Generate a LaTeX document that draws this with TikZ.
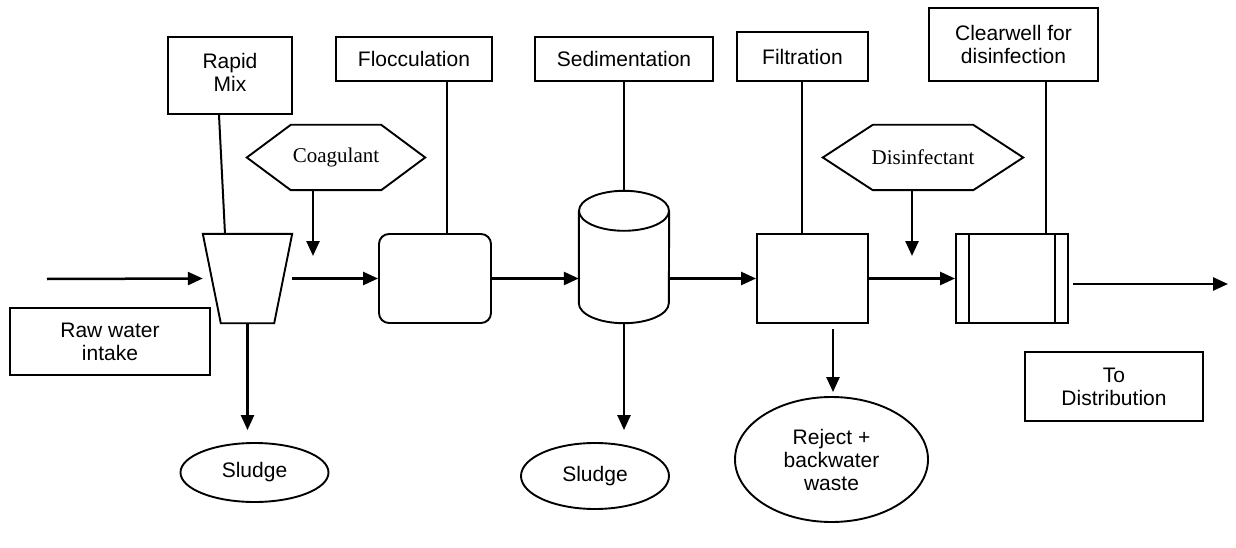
\documentclass[tikz,border=0pt]{standalone}
\usepackage{fontspec}
\setmainfont{Liberation Sans}
\newfontfamily\timesfont{Liberation Serif}
\usetikzlibrary{arrows.meta,shapes.geometric}
\begin{document}
\begin{tikzpicture}[x=1pt,y=-1pt,
  every node/.style={font=\fontsize{21}{23}\selectfont, align=center, inner sep=0pt},
  lbl/.style={draw, line width=1.9pt},
  ghost/.style={draw=none},
  shp/.style={line width=1.9pt},
  conn/.style={line width=2pt},
  arr/.style={line width=2.5pt, -{Triangle[length=15pt,width=13pt]}},
  hexfont/.style={font=\timesfont\fontsize{21}{23}\selectfont}]
\useasboundingbox (0,0) rectangle (1236,548);

% label boxes
\node[lbl, minimum width=124pt, minimum height=77pt] (rapid) at (230,75.5) {\raisebox{4pt}{\begin{tabular}{@{}c@{}}Rapid\\Mix\end{tabular}}};
\node[lbl, minimum width=156pt, minimum height=44pt] (floc) at (414,59) {Flocculation};
\node[lbl, minimum width=178pt, minimum height=44pt] (sedl) at (624,59) {Sedimentation};
\node[lbl, minimum width=131pt, minimum height=49pt] (filtl) at (802.5,56.5) {Filtration};
\node[lbl, minimum width=169pt, minimum height=73pt] (clear) at (1013.5,44.5) {Clearwell for\\disinfection};
\node[lbl, minimum width=200pt, minimum height=67pt] (raw) at (110,341.5) {Raw water\\intake};
\node[lbl, minimum width=178pt, minimum height=69pt] (dist) at (1114,386.5) {To\\Distribution};

% hexagons
\node[ghost, hexfont, minimum width=178pt, minimum height=65pt] (coag) at (336,157.5) {Coagulant};
\draw[shp] (coag.west) -- ([xshift=44pt]coag.north west) -- ([xshift=-44pt]coag.north east)
  -- (coag.east) -- ([xshift=-44pt]coag.south east) -- ([xshift=44pt]coag.south west) -- cycle;
\node[ghost, hexfont, minimum width=200pt, minimum height=65pt] (dis) at (923,157.5) {Disinfectant};
\draw[shp] (dis.west) -- ([xshift=50pt]dis.north west) -- ([xshift=-50pt]dis.north east)
  -- (dis.east) -- ([xshift=-50pt]dis.south east) -- ([xshift=50pt]dis.south west) -- cycle;

% process units
\node[ghost, minimum width=89pt, minimum height=89pt] (rm) at (247.5,278.5) {};
\draw[shp] (rm.north west) -- (rm.north east) -- ([xshift=-18pt]rm.south east)
  -- ([xshift=18pt]rm.south west) -- cycle;
\node[lbl, rounded corners=10pt, minimum width=112pt, minimum height=89pt] (fb) at (435,278.5) {};
\node[ghost, minimum width=90pt, minimum height=132pt] (sed) at (624,257) {};
\draw[shp] ([yshift=-20pt]sed.north west) -- ([yshift=20pt]sed.south west)
  arc[start angle=180, end angle=360, x radius=45pt, y radius=20pt]
  -- ([yshift=-20pt]sed.north east);
\draw[shp] ([yshift=-20pt]sed.north) ellipse [x radius=45pt, y radius=20pt];
\node[lbl, minimum width=111pt, minimum height=89pt] (fblk) at (812.5,278.5) {};
\node[lbl, minimum width=112pt, minimum height=89pt] (cw) at (1012,278.5) {};
\draw[shp] ([xshift=14pt]cw.north west) -- ([xshift=14pt]cw.south west);
\draw[shp] ([xshift=-14pt]cw.north east) -- ([xshift=-14pt]cw.south east);

% outputs
\node[draw, ellipse, shp, minimum width=148pt, minimum height=59pt] (sl1) at (254.5,472.5) {Sludge};
\node[draw, ellipse, shp, minimum width=148pt, minimum height=66pt] (sl2) at (595,476) {Sludge};
\node[draw, ellipse, shp, minimum width=193pt, minimum height=125pt] (rej) at (831.5,459.5) {Reject +\\backwater\\waste};

% label connectors
\draw[conn] ([xshift=-11pt]rapid.south) -- ([xshift=-22.5pt]rm.north);
\draw[conn] ([xshift=33pt]floc.south) -- ([xshift=33pt]floc.south |- fb.north);
\draw[conn] (sedl.south) -- (sedl.south |- sed.north);
\draw[conn] ([xshift=-0.5pt]filtl.south) -- ([xshift=-0.5pt]filtl.south |- fblk.north);
\draw[conn] ([xshift=32.5pt]clear.south) -- ([xshift=32.5pt]clear.south |- cw.north);

% flow arrows
\coordinate (in) at (47,279);
\coordinate (o1) at (1073,284);
\coordinate (o2) at (1228,284);
\coordinate (cga) at (313,256);
\coordinate (dsa) at (912,256);
\draw[arr] (in) -- (rm.west);
\draw[arr] (rm.east) -- (fb.west);
\draw[arr] (fb.east) -- (fb.east -| sed.west);
\draw[arr] (sed.east |- fblk.west) -- (fblk.west);
\draw[arr] (fblk.east) -- (cw.west);
\draw[arr] (o1) -- (o2);
\draw[arr] (coag.south -| cga) -- (cga);
\draw[arr] (dis.south -| dsa) -- (dsa);
\draw[arr] (rm.south) -- ([yshift=12pt]rm.south |- sl1.north);
\draw[arr] (sed.south) -- ([yshift=12pt]sed.south |- sl2.north);
\draw[arr] ([xshift=20.5pt,yshift=-5pt]fblk.south) -- ([xshift=20.5pt,yshift=4pt]fblk.south |- rej.north);
\end{tikzpicture}
\end{document}
